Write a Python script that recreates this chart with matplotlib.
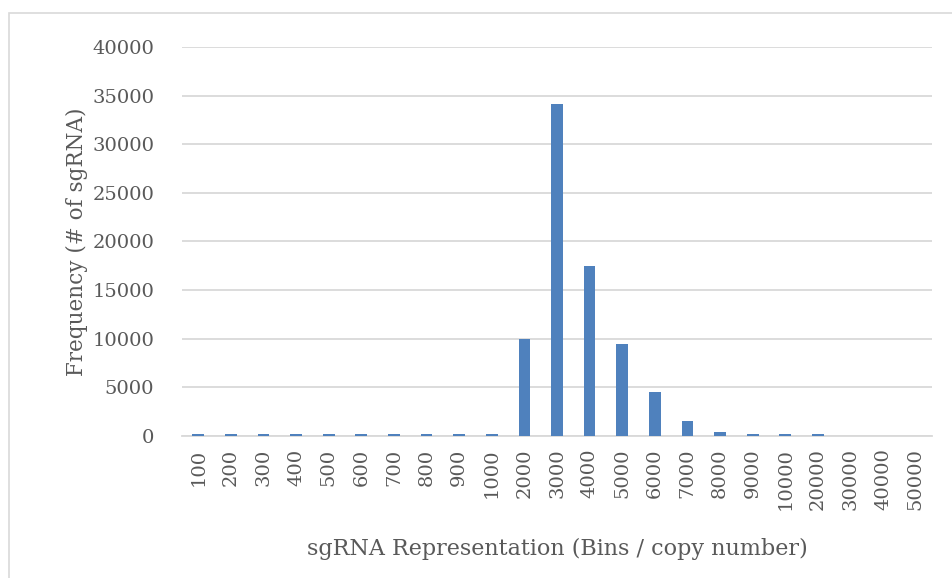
import numpy as np
import matplotlib.pyplot as plt
from matplotlib.patches import Rectangle

bins = ["100", "200", "300", "400", "500", "600", "700", "800", "900", "1000",
        "2000", "3000", "4000", "5000", "6000", "7000", "8000", "9000", "10000",
        "20000", "30000", "40000", "50000"]
freq = [200, 200, 200, 200, 200, 200, 200, 200, 200, 200,
        10000, 34100, 17450, 9500, 4500, 1500, 400, 200, 200,
        200, 0, 0, 0]

plt.rcParams['font.family'] = ['DejaVu Serif']
grey = '#595959'

fig = plt.figure(figsize=(9.53, 5.78), dpi=100)
ax = fig.add_axes([182/953, 1-436/578, 750/953, 389/578])

x = np.arange(len(bins))
ax.bar(x, freq, width=0.36, color='#4f81bd', zorder=3)

ax.set_ylim(0, 40000)
ax.set_xlim(-0.5, len(bins)-0.5)
ax.set_yticks(np.arange(0, 40001, 5000))
ax.yaxis.grid(True, color='#d9d9d9', linewidth=1.3, zorder=0)
ax.set_xticks(x)
ax.set_xticklabels(bins, rotation=90)
ax.tick_params(axis='both', length=0, labelsize=14, labelcolor=grey)
ax.tick_params(axis='y', pad=20)
ax.tick_params(axis='x', pad=9)
for s in ['top', 'right', 'left']:
    ax.spines[s].set_visible(False)
ax.spines['bottom'].set_color('#d9d9d9')
ax.spines['bottom'].set_linewidth(1.3)

ax.set_ylabel("Frequency (# of sgRNA)", fontsize=15.5, color=grey, labelpad=3)
ax.set_xlabel("sgRNA Representation (Bins / copy number)", fontsize=16, color=grey, labelpad=20)

fig.patches.append(Rectangle((9/953, -0.1), 1.1, 1-13/578+0.1, transform=fig.transFigure,
                             fill=False, edgecolor='#d9d9d9', linewidth=1.2))

fig.savefig("out.png", dpi=100)
